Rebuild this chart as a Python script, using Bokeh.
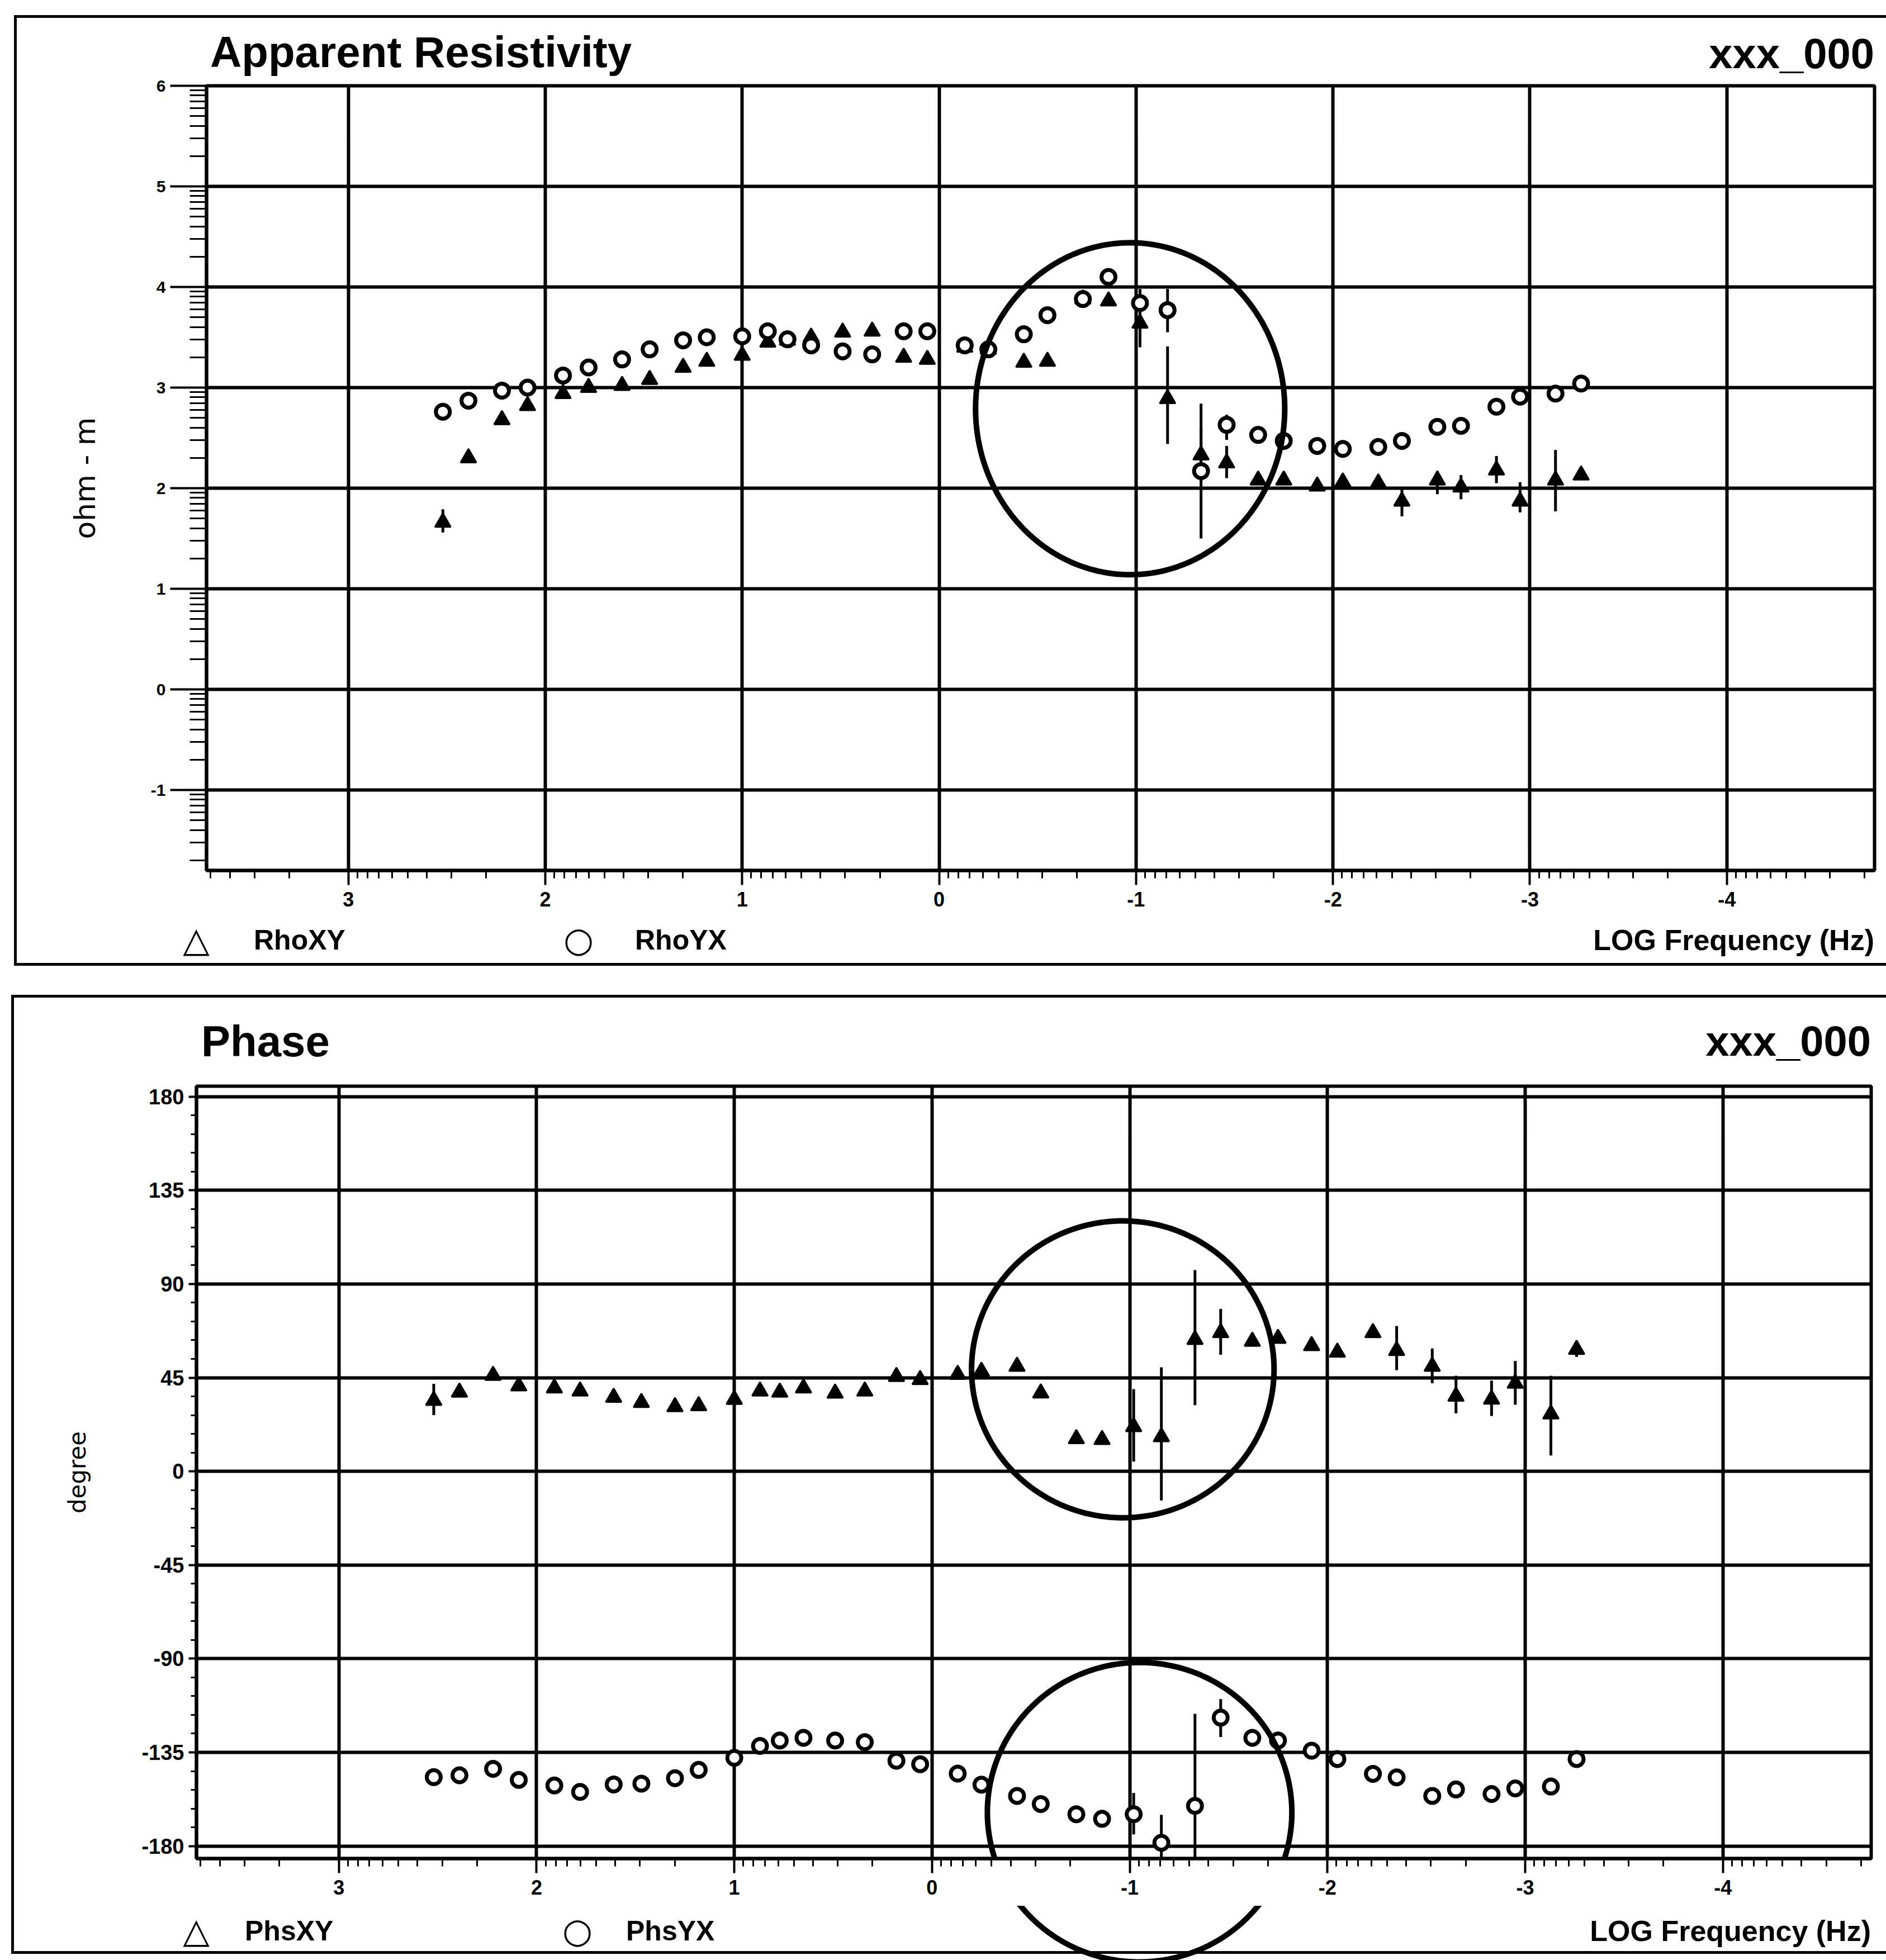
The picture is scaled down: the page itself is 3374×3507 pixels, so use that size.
import numpy as np
from bokeh.plotting import figure
from bokeh.models import Range1d, FixedTicker, ColumnDataSource, Div
from bokeh.layouts import column, row
from bokeh.embed import file_html
from bokeh.resources import INLINE

log_freq = [2.52, 2.39, 2.22, 2.09, 1.91, 1.78, 1.61, 1.47, 1.30, 1.18,
            1.00, 0.87, 0.77, 0.65, 0.49, 0.34, 0.18, 0.06, -0.13, -0.25,
            -0.43, -0.55, -0.73, -0.86, -1.02, -1.16, -1.33, -1.46, -1.62, -1.75,
            -1.92, -2.05, -2.23, -2.35, -2.53, -2.65, -2.83, -2.95, -3.13, -3.26]

rho_xy = [1.66, 2.30, 2.68, 2.82, 2.94, 3.00, 3.02, 3.08, 3.20, 3.26,
          3.32, 3.45, 3.47, 3.50, 3.55, 3.56, 3.30, 3.28, 3.40, 3.38,
          3.25, 3.26, 3.88, 3.86, 3.64, 2.89, 2.33, 2.25, 2.08, 2.08,
          2.02, 2.06, 2.05, 1.87, 2.08, 2.01, 2.18, 1.87, 2.08, 2.13]
rho_xy_lo = [1.56, None, None, None, None, None, None, None, None, None,
             None, None, None, None, None, None, None, None, None, None,
             None, None, None, None, 3.40, 2.44, 2.05, 2.10, None, None,
             None, None, None, 1.72, 1.94, 1.89, 2.05, 1.76, 1.77, 2.08]
rho_xy_hi = [1.79, None, None, None, None, None, None, None, None, None,
             None, None, None, None, None, None, None, None, None, None,
             None, None, None, None, 3.80, 3.41, 2.84, 2.42, None, None,
             None, None, None, 2.01, 2.17, 2.13, 2.32, 2.06, 2.38, 2.18]

rho_yx = [2.76, 2.87, 2.97, 3.00, 3.12, 3.20, 3.28, 3.38, 3.47, 3.50,
          3.51, 3.56, 3.48, 3.42, 3.36, 3.33, 3.56, 3.56, 3.42, 3.38,
          3.53, 3.72, 3.88, 4.10, 3.84, 3.77, 2.17, 2.63, 2.53, 2.47,
          2.42, 2.39, 2.41, 2.47, 2.61, 2.62, 2.81, 2.91, 2.94, 3.04]
rho_yx_lo = [None] * 24 + [3.62, 3.55, 1.50, 2.48] + [None] * 12
rho_yx_hi = [None] * 24 + [3.98, 3.98, 2.60, 2.73] + [None] * 12

phs_xy = [34.0, 38.0, 46.0, 41.0, 40.0, 38.5, 35.5, 33.0, 31.0, 31.5,
          34.5, 38.5, 38.0, 40.0, 37.5, 38.5, 45.5, 44.0, 46.5, 48.0,
          50.4, 37.6, 15.6, 15.2, 21.4, 16.6, 63.3, 66.6, 62.4, 63.8,
          60.3, 57.2, 66.6, 58.0, 50.4, 36.0, 34.6, 42.3, 27.5, 58.5]
phs_xy_lo = [27.0] + [None] * 9 + [31.0] + [None] * 13 + \
            [4.7, -14.0, 31.8, 56.0, None, None, None, None, None,
             48.6, 42.3, 27.9, 26.6, 32.0, 7.6, 55.0]
phs_xy_hi = [42.0] + [None] * 9 + [38.0] + [None] * 13 + \
            [39.5, 50.0, 96.7, 78.0, None, None, None, None, None,
             69.8, 59.0, 45.9, 43.6, 53.0, 45.9, 62.0]

phs_yx = [-146.9, -146.0, -142.9, -148.2, -150.9, -154.0, -150.4, -150.0, -147.4, -143.4,
          -137.6, -131.9, -129.3, -128.0, -129.3, -130.1, -139.0, -140.7, -145.2, -150.5,
          -155.9, -159.8, -164.7, -166.9, -164.7, -178.4, -160.7, -118.3, -128.0, -129.3,
          -134.2, -138.2, -145.3, -147.0, -155.9, -152.8, -155.0, -152.3, -151.4, -138.2]
phs_yx_lo = [None] * 24 + [-174.4, -190.0, -187.0, -127.6] + [None] * 12
phs_yx_hi = [None] * 24 + [-154.5, -165.0, -116.5, -109.4] + [None] * 12

x_ticks = [3, 2, 1, 0, -1, -2, -3, -4]
x_tick_labels = ["3", "2", "1", "0", "-1", "-2", "-3", "-4"]
rho_ticks = [6, 5, 4, 3, 2, 1, 0, -1]
rho_tick_labels = ["6", "5", "4", "3", "2", "1", "0", "-1"]
phs_ticks = [180, 135, 90, 45, 0, -45, -90, -135, -180]
phs_tick_labels = ["180", "135", "90", "45", "0", "-45", "-90", "-135", "-180"]

# hand-drawn rings on the scan: centre x, centre y, width, height (data units)
rho_ring = [-0.97, 2.79, 1.57, 3.30]
phs_ring_upper = [-0.965, 49.0, 1.53, 142.6]
phs_ring_lower = [-1.05, -163.8, 1.54, 144.0]

# ---------------- layout constants (page pixels) ----------------
X0, X1 = 3.72, -4.75
FONT = "Liberation Sans"
STRIP = 32           # narrow strip holding the left edge of each outer frame
W = 3374 - STRIP


def log_minor(lo, hi):
    out = []
    for k in range(-6, 7):
        for n in range(2, 10):
            v = k + np.log10(n)
            if lo < v < hi:
                out.append(float(v))
    return out


def err_src(lo, hi):
    idx = [i for i in range(len(log_freq)) if lo[i] is not None]
    return ColumnDataSource(dict(x=[log_freq[i] for i in idx],
                                 lo=[lo[i] for i in idx],
                                 hi=[hi[i] for i in idx]))


def ring_xy(params):
    cx, cy, w, h = params
    t = np.linspace(0, 2 * np.pi, 200)
    return cx + w / 2 * np.cos(t), cy + h / 2 * np.sin(t)


# ---- html helpers for the title / legend strips ----
def h_text(s, yc, size, x=None, right=None, anchor="left", bold=True, font=FONT):
    st = (f"position:absolute;top:{yc}px;font-family:'{font}';font-size:{size}px;"
          f"font-weight:{'bold' if bold else 'normal'};line-height:1;white-space:nowrap;color:#000;")
    if anchor == "left":
        st += f"left:{x}px;transform:translateY(-50%);"
    elif anchor == "center":
        st += f"left:{x}px;transform:translate(-50%,-50%);"
    else:
        st += f"right:{right}px;transform:translateY(-50%);"
    return f'<span style="{st}">{s}</span>'


def h_line(x, y, w, h):
    return (f'<div style="position:absolute;left:{x}px;top:{y}px;width:{w}px;'
            f'height:{h}px;background:#000;"></div>')


def strip_div(width, height, body):
    return Div(text=(f'<div style="position:relative;width:{width}px;height:{height}px;'
                     f'overflow:visible;background:#fff;">{body}</div>'),
               width=width, height=height, margin=(0, 0, 0, 0))


def style(p, yticks, ylabels, yminor, ylab_size, ytick_out, yminor_out, ylabel_standoff):
    p.title.visible = False
    p.background_fill_color = "white"
    p.border_fill_color = "white"
    p.outline_line_color = "black"
    p.outline_line_width = 6
    p.xaxis.ticker = FixedTicker(ticks=x_ticks, minor_ticks=log_minor(X1, X0))
    p.xaxis.major_label_overrides = dict(zip(x_ticks, x_tick_labels))
    p.yaxis.ticker = FixedTicker(ticks=yticks, minor_ticks=yminor)
    p.yaxis.major_label_overrides = dict(zip(yticks, ylabels))
    for ax in (p.xaxis, p.yaxis):
        ax.axis_line_color = "black"
        ax.axis_line_width = 6
        ax.major_tick_line_color = "black"
        ax.minor_tick_line_color = "black"
        ax.major_tick_line_width = 4
        ax.minor_tick_line_width = 3
        ax.major_tick_in = 0
        ax.minor_tick_in = 0
        ax.major_label_text_font = FONT
        ax.major_label_text_font_style = "bold"
        ax.major_label_text_color = "black"
    p.xaxis.major_tick_out = 26
    p.xaxis.minor_tick_out = 14
    p.xaxis.major_label_standoff = 12
    p.xaxis.major_label_text_font_size = "36px"
    p.yaxis.major_tick_out = ytick_out
    p.yaxis.minor_tick_out = yminor_out
    p.yaxis.major_label_standoff = 8
    p.yaxis.major_label_text_font_size = ylab_size
    p.yaxis.axis_label_text_font = "DejaVu Sans"
    p.yaxis.axis_label_text_font_style = "normal"
    p.yaxis.axis_label_text_color = "black"
    p.yaxis.axis_label_standoff = ylabel_standoff
    p.xgrid.ticker = FixedTicker(ticks=x_ticks)
    p.ygrid.ticker = FixedTicker(ticks=yticks)
    for g in (p.xgrid, p.ygrid):
        g.grid_line_color = "black"
        g.grid_line_width = 6
        g.grid_line_alpha = 1.0


def points(p, y_tri, y_circ, tri_lo, tri_hi, circ_lo, circ_hi):
    p.segment(x0="x", y0="lo", x1="x", y1="hi", source=err_src(tri_lo, tri_hi),
              line_color="black", line_width=5)
    p.segment(x0="x", y0="lo", x1="x", y1="hi", source=err_src(circ_lo, circ_hi),
              line_color="black", line_width=5)
    p.scatter(log_freq, y_tri, marker="triangle", size=28, fill_color="black",
              line_color="black", line_width=3)
    p.scatter(log_freq, y_circ, marker="circle", size=25, fill_color="white",
              line_color="black", line_width=7)


def legend_body(yc, tri_x, n1_x, circ_x, n2_x, n1, n2, right, line_y):
    return (h_text("\u25b3", yc, 62, x=tri_x, anchor="center", bold=False, font="DejaVu Sans")
            + h_text(n1, yc, 50, x=n1_x)
            + h_text("\u25cb", yc, 62, x=circ_x, anchor="center", bold=False, font="DejaVu Sans")
            + h_text(n2, yc, 50, x=n2_x)
            + h_text("LOG Frequency (Hz)", yc, 52, right=right, anchor="right")
            + h_line(0, line_y - 2, W, 5))


# ======================= panel 1: apparent resistivity =======================
H1 = 1755
HEAD1, FOOT1 = 137, 113
FL1, FW1, FT1, FH1 = 337, 2984, 16, 1404           # main figure frame geometry
MAIN1 = H1 - HEAD1 - FOOT1

strip1 = strip_div(STRIP, H1, h_line(25, 27, 5, 1700) + h_line(25, 27, STRIP - 25, 5)
                   + h_line(25, 1723, STRIP - 25, 5))
head1 = strip_div(W, HEAD1,
                  h_line(0, 27, W, 5)
                  + h_text("Apparent Resistivity", 93, 78, x=FL1 + 7)
                  + h_text("xxx_000", 96, 76, right=W - FL1 - FW1, anchor="right"))

p1 = figure(frame_width=FW1, frame_height=FH1, min_border_left=FL1,
            min_border_right=W - FL1 - FW1, min_border_top=FT1,
            min_border_bottom=MAIN1 - FT1 - FH1,
            x_range=Range1d(X0, X1), y_range=Range1d(-1.8, 6.0),
            output_backend="svg", toolbar_location=None, y_axis_label="ohm - m")
style(p1, rho_ticks, rho_tick_labels, log_minor(-1.8, 6.0), "30px", 65, 30, 85)
p1.yaxis.axis_label_text_font_size = "52px"
points(p1, rho_xy, rho_yx, rho_xy_lo, rho_xy_hi, rho_yx_lo, rho_yx_hi)
rx, ry = ring_xy(rho_ring)
p1.line(rx, ry, line_color="black", line_width=10)

foot1 = strip_div(W, FOOT1, legend_body(40, 319, 422, 1003, 1104, "RhoXY", "RhoYX",
                                        W - FL1 - FW1, 83))

panel1 = row(strip1, column(head1, p1, foot1, spacing=0), spacing=0)

# ======================= panel 2: phase =======================
H2 = 3507 - H1
HEAD2, FOOT2 = 158, 97
FL2, FW2, FT2, FH2 = 319, 2996, 30, 1382
MAIN2 = H2 - HEAD2 - FOOT2
Y0, Y1 = -186, 185

strip2 = strip_div(STRIP, H2, h_line(20, 25, 5, 1715) + h_line(20, 25, STRIP - 20, 5)
                   + h_line(20, 1736, STRIP - 20, 5))
head2 = strip_div(W, HEAD2,
                  h_line(0, 25, W, 5)
                  + h_text("Phase", 108, 78, x=FL2 + 9)
                  + h_text("xxx_000", 108, 76, right=W - FL2 - FW2, anchor="right"))

p2 = figure(frame_width=FW2, frame_height=FH2, min_border_left=FL2,
            min_border_right=W - FL2 - FW2, min_border_top=FT2,
            min_border_bottom=MAIN2 - FT2 - FH2,
            x_range=Range1d(X0, X1), y_range=Range1d(Y0, Y1),
            output_backend="svg", toolbar_location=None, y_axis_label="degree")
style(p2, phs_ticks, phs_tick_labels, [float(v) for v in range(-180, 181, 9) if v % 45 != 0],
      "38px", 14, 10, 87)
p2.yaxis.axis_label_text_font_size = "42px"
points(p2, phs_xy, phs_yx, phs_xy_lo, phs_xy_hi, phs_yx_lo, phs_yx_hi)
for params in (phs_ring_upper, phs_ring_lower):
    rx, ry = ring_xy(params)
    p2.line(rx, ry, line_color="black", line_width=10)

# continuation of the lower ring below the axis: same ellipse, mapped to footer pixels
cx, cy, rw, rh = phs_ring_lower
ecx = FL2 + (X0 - cx) / (X0 - X1) * FW2
ecy = HEAD2 + FT2 + (Y1 - cy) / (Y1 - Y0) * FH2 - (HEAD2 + MAIN2)
erx = rw / 2 / (X0 - X1) * FW2
ery = rh / 2 / (Y1 - Y0) * FH2
ring_svg = (f'<svg style="position:absolute;left:0;top:0;" width="{W}" height="{FOOT2}">'
            f'<ellipse cx="{ecx:.1f}" cy="{ecy:.1f}" rx="{erx:.1f}" ry="{ery:.1f}" '
            f'fill="none" stroke="#000" stroke-width="10"/></svg>')
foot2 = strip_div(W, FOOT2, ring_svg + legend_body(45, 319, 406, 1001, 1088, "PhsXY", "PhsYX",
                                                   W - FL2 - FW2, 83))

panel2 = row(strip2, column(head2, p2, foot2, spacing=0), spacing=0)

layout = column(panel1, panel2, spacing=0)
open("out.html", "w").write(file_html(layout, INLINE))
